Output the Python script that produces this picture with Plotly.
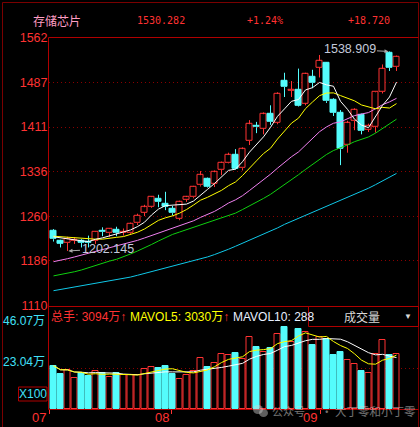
import plotly.graph_objects as go
import pandas as pd

W, H = 420, 427
def px(x): return x / W
def py(y): return 1 - y / H

# ---------------- data ----------------
idx = list(range(1, 51))
opens = [1236,1219,1216,1219,1219,1218,1219,1236,1232,1238,1233,1232,1249,1267,1277,1291,1282,1274,1257,1289,
         1293,1313,1324,1315,1339,1351,1364,1342,1388,1413,1409,1433,1419,1489,1473,1474,1451,1497,1512,1519,
         1457,1435,1381,1422,1432,1407,1412,1471,1537,1513]
highs = [1239,1221,1226,1225,1222,1228,1235,1242,1240,1243,1240,1250,1265,1280,1294,1297,1302,1278,1287,1295,
         1312,1337,1326,1338,1353,1368,1374,1377,1423,1420,1436,1448,1470,1503,1489,1510,1503,1508,1533,1521,
         1460,1440,1422,1443,1434,1417,1471,1517,1538.909,1532]
lows = [1218,1208,1202.145,1214,1208,1208,1214,1227,1226,1227,1228,1230,1246,1261,1275,1276,1271,1262,1254,1285,
        1291,1311,1309,1310,1330,1350,1339,1338,1381,1401,1399,1415,1416,1462,1462,1446,1448,1477,1495,1452,
        1430,1347,1368,1406,1399,1403,1402,1468,1506,1506]
closes = [1222,1215,1222,1221,1216,1216,1234,1234,1239,1232,1235,1248,1262,1276,1293,1285,1277,1266,1285,1293,
          1311,1330,1311,1335,1351,1364,1340,1374,1416,1411,1433,1420,1467,1479,1475,1448,1501,1486,1523,1455,
          1436,1374,1418,1440,1405,1414,1470,1510,1511.562,1530.282]
volume = [24.3,19.8,21.9,17.2,20.1,18.7,21.2,20.1,18.0,20.1,19.1,19.1,19.1,22.5,23.6,23.0,24.2,19.8,16.9,19.1,
          21.4,28.7,23.6,25.9,30.9,30.3,31.5,28.1,40.5,34.8,32.0,34.3,42.1,46.07,37.7,44.8,43.3,36.0,40.5,39.3,
          30.5,32.0,27.8,25.5,21.5,20.2,30.9,39.0,30.5,30.94]

ma5 = [1226,1224,1222,1220,1219.2,1218,1221.8,1224.2,1227.8,1231,1234.8,1237.6,1243.2,1250.6,1262.8,1272.8,
       1278.6,1279.4,1281.2,1281.2,1286.4,1297,1306,1316,1327.6,1338.2,1340.2,1352.8,1369,1381,1394.8,1410.8,
       1429.4,1442,1454.8,1457.8,1474,1477.8,1486.6,1482.6,1480.2,1454.8,1441.2,1424.6,1414.6,1410.2,1429.4,
       1447.8,1462.1,1487.2]
ma10 = [1227,1226,1225,1224,1223,1222,1222,1222,1223,1225.1,1226.4,1229.7,1233.7,1239.2,1246.9,1253.8,1258.1,
        1261.3,1265.9,1272,1279.6,1287.8,1292.7,1298.6,1304.4,1312.3,1318.6,1329.4,1342.5,1354.3,1366.5,1375.5,
        1391.1,1405.5,1417.9,1426.3,1442.4,1453.6,1464.3,1468.7,1469,1464.4,1459.5,1455.6,1448.6,1445.2,1442.1,
        1444.5,1443.4,1450.9]
ma20 = [1184,1186,1189,1192,1195,1198,1201,1204,1207,1210,1213,1216,1220,1224,1228,1232,1237,1241,1245,1248.6,
        1253,1258.75,1263.2,1268.9,1275.65,1283,1288.4,1295.4,1304.2,1313.2,1323,1331.7,1341.9,1352,1361.2,
        1369.3,1380.5,1391.5,1403.4,1411.5,1417.75,1420,1425.3,1430.6,1433.3,1435.75,1442.25,1449,1453.8,1459.8]
ma30 = [1160,1162,1165,1167,1170,1174,1177,1181,1185,1188,1192,1197,1202,1207,1213,1219,1225,1230,1234,1238,
        1242,1246,1250,1254,1257,1262,1266,1272,1278,1283.8,1290.8,1297.7,1305.8,1314.4,1323.1,1330.8,1339.7,
        1348.1,1357.6,1365,1371.7,1375.9,1381.1,1386.6,1390.3,1394.6,1401,1409.2,1416.7,1424.6]
ma_long = [1135,1137,1139,1141,1143,1145,1147,1149,1151,1153,1155,1158,1161,1164,1167,1170,1173,1176,1179,1182,
           1186,1189,1192,1196,1200,1205,1210,1215,1220,1225,1230,1236,1241,1247,1252,1257,1262,1267,1273,1278,
           1283,1288,1292,1297,1303,1308,1314,1320,1326,1333]

price_ticks = [1110, 1185.33, 1260.67, 1336, 1411.33, 1486.67, 1562]
price_tick_text = ["1110", "1186", "1260", "1336", "1411", "1487", "1562"]
month_labels = ["07", "08", "09"]
month_pos = [0.4, 17.9, 39.1]

title_name = "存储芯片"
last_price = "1530.282"
pct_chg = "+1.24%"
abs_chg = "+18.720"

# ---------------- styles ----------------
RED = "#ff3232"
CYAN = "#54fcfc"
GRID = "#8a0000"
BORDER = "#b00000"
FONT = "Liberation Sans, Noto Sans CJK SC, sans-serif"
CJK = "Noto Sans CJK SC, sans-serif"
MONO = "DejaVu Sans Mono, Noto Sans CJK SC, monospace"

vol_s = pd.Series(volume)
mavol5 = vol_s.rolling(5, min_periods=1).mean().tolist()
mavol10 = vol_s.rolling(10, min_periods=1).mean().tolist()

up = [i for i in range(50) if closes[i] >= opens[i]]
dn = [i for i in range(50) if closes[i] < opens[i]]

fig = go.Figure()

BW = 0.72
fig.add_trace(go.Bar(x=[idx[i] for i in up], y=[closes[i] - opens[i] for i in up],
                     base=[opens[i] for i in up], width=BW,
                     marker=dict(color="black", line=dict(color=RED, width=1)),
                     xaxis="x", yaxis="y", hoverinfo="skip"))
fig.add_trace(go.Bar(x=[idx[i] for i in dn], y=[opens[i] - closes[i] for i in dn],
                     base=[closes[i] for i in dn], width=BW,
                     marker=dict(color=CYAN, line=dict(color=CYAN, width=1)),
                     xaxis="x", yaxis="y", hoverinfo="skip"))

def wick(ids):
    xs, ys = [], []
    for i in ids:
        top = max(opens[i], closes[i]); bot = min(opens[i], closes[i])
        xs += [idx[i], idx[i], None, idx[i], idx[i], None]
        ys += [highs[i], top, None, bot, lows[i], None]
    return xs, ys

for ids, col in ((up, RED), (dn, CYAN)):
    xs, ys = wick(ids)
    fig.add_trace(go.Scatter(x=xs, y=ys, mode="lines", line=dict(color=col, width=1),
                             xaxis="x", yaxis="y", hoverinfo="skip"))

for arr, col in ((ma_long, "#10c8e8"), (ma30, "#10d010"), (ma20, "#f080f0"), (ma10, "#ffff00"), (ma5, "#ffffff")):
    fig.add_trace(go.Scatter(x=idx, y=arr, mode="lines", line=dict(color=col, width=1),
                             xaxis="x", yaxis="y", hoverinfo="skip"))

fig.add_trace(go.Bar(x=[idx[i] for i in up], y=[volume[i] for i in up], width=BW,
                     marker=dict(color="black", line=dict(color=RED, width=1)),
                     xaxis="x2", yaxis="y2", hoverinfo="skip"))
fig.add_trace(go.Bar(x=[idx[i] for i in dn], y=[volume[i] for i in dn], width=BW,
                     marker=dict(color=CYAN, line=dict(color=CYAN, width=1)),
                     xaxis="x2", yaxis="y2", hoverinfo="skip"))
fig.add_trace(go.Scatter(x=idx, y=mavol10, mode="lines", line=dict(color="#ffffff", width=1),
                         xaxis="x2", yaxis="y2", hoverinfo="skip"))
fig.add_trace(go.Scatter(x=idx, y=mavol5, mode="lines", line=dict(color="#ffff00", width=1),
                         xaxis="x2", yaxis="y2", hoverinfo="skip"))

XL, XR = 48.5, 418.5
xr = [1 - (53.5 - XL) / 7, 1 + (XR - 53.5) / 7]
vol_top = (409 - 309) / 41 * 23.04

fig.update_layout(
    width=W, height=H, margin=dict(l=0, r=0, t=0, b=0, autoexpand=False),
    paper_bgcolor="black", plot_bgcolor="black", showlegend=False,
    barmode="overlay", bargap=0,
    font=dict(family=FONT, color=RED, size=12),
    xaxis=dict(domain=[px(XL), px(XR)], range=xr, anchor="y", showgrid=False, zeroline=False,
               showticklabels=False, ticks="", automargin=False),
    yaxis=dict(domain=[py(305.5), py(37.8)], range=[1110, 1562], anchor="x",
               tickvals=price_ticks, ticktext=price_tick_text, ticks="", automargin=False,
               tickfont=dict(family=FONT, size=12.5, color=RED),
               showgrid=True, gridcolor=GRID, griddash="1px,3px", gridwidth=1, zeroline=False),
    xaxis2=dict(domain=[px(XL), px(XR)], range=xr, anchor="y2", showgrid=False, zeroline=False,
                tickvals=month_pos, showticklabels=False, ticks="outside", ticklen=4, tickcolor=RED,
                automargin=False),
    yaxis2=dict(domain=[py(409), py(309)], range=[0, vol_top], anchor="x2",
                tickvals=[23.04], showticklabels=False, ticks="", automargin=False,
                showgrid=True, gridcolor=GRID, griddash="1px,3px", gridwidth=1, zeroline=False),
)

shapes = []
def hline(y, x0, x1, col=BORDER, w=1):
    shapes.append(dict(type="line", xref="paper", yref="paper", x0=px(x0), x1=px(x1), y0=py(y), y1=py(y),
                       line=dict(color=col, width=w)))
def vline(x, y0, y1, col=BORDER, w=1):
    shapes.append(dict(type="line", xref="paper", yref="paper", x0=px(x), x1=px(x), y0=py(y0), y1=py(y1),
                       line=dict(color=col, width=w)))

hline(2.5, 2.5, 418.5, "#7a0000")
vline(2.5, 2.5, 427, "#7a0000")
vline(418.5, 2.5, 427, "#7a0000")
hline(37.5, XL, XR)
vline(XL, 37.5, 409.5)
hline(306.5, XL, XR)
hline(409.5, XL, XR)
shapes.append(dict(type="rect", xref="paper", yref="paper", x0=px(308.5), x1=px(418.5), y0=py(326.5), y1=py(306.5),
                   fillcolor="black", line=dict(color=BORDER, width=1), layer="above"))
shapes.append(dict(type="rect", xref="paper", yref="paper", x0=px(18.5), x1=px(47), y0=py(401), y1=py(387),
                   line=dict(color=BORDER, width=1)))
shapes.append(dict(type="circle", xref="paper", yref="paper", x0=px(253), x1=px(263), y0=py(414), y1=py(405),
                   fillcolor="rgba(210,210,210,0.45)", line=dict(width=0)))
shapes.append(dict(type="circle", xref="paper", yref="paper", x0=px(259), x1=px(268), y0=py(417), y1=py(409),
                   fillcolor="rgba(210,210,210,0.45)", line=dict(width=0)))
fig.update_layout(shapes=shapes)

ann = []
def text(x, y, s, col, size=12, xanchor="left", family=FONT, opacity=1):
    ann.append(dict(x=px(x), y=py(y), xref="paper", yref="paper", text=s, showarrow=False,
                    xanchor=xanchor, yanchor="middle", font=dict(family=family, size=size, color=col),
                    opacity=opacity))

text(31, 20, title_name, "#ff9ec4", 12, family=CJK)
text(135, 20, last_price, RED, 10, family=MONO)
text(245, 20, pct_chg, RED, 10, family=MONO)
text(346, 20, abs_chg, RED, 10, family=MONO)

text(49, 317, "总手: 3094万↑", RED, 12)
text(128, 317, f'MAVOL5: 3030万<span style="color:{RED}">↑</span>', "#ffff00", 12)
text(231, 317, "MAVOL10: 288", "#e8f0ff", 12)
text(362, 316.5, "成交量", "#d8d8d8", 12, xanchor="center", family=CJK)
text(408, 316, "▼", "#d8d8d8", 8, xanchor="center")
text(46.5, 320.5, "46.07万", "#40e0f8", 12, xanchor="right")
text(46.5, 361.7, "23.04万", "#40e0f8", 12, xanchor="right")
text(32.7, 394, "X100", "#40e0f8", 12, xanchor="center")
text(270, 411, "公众号", "#d0d0d0", 11, family=CJK, opacity=0.55)
text(319, 411, "· 大丁零和小丁零", "#d0d0d0", 11.5, family=CJK, opacity=0.55)

for lab, pos in zip(month_labels, month_pos):
    ann.append(dict(x=pos, y=py(417.5), xref="x2", yref="paper", text=lab, showarrow=False,
                    xanchor="right", yanchor="middle", xshift=-1,
                    font=dict(family=FONT, size=13, color=RED)))

ann.append(dict(x=49, y=1538.909, xref="x", yref="y", text="1538.909", showarrow=True,
                ax=-40, ay=-2, arrowcolor="#a8a8a8", arrowhead=2, arrowsize=0.8, arrowwidth=1, standoff=1,
                font=dict(family=FONT, size=12.5, color="#c4cadb")))
ann.append(dict(x=3, y=1202.145, xref="x", yref="y", text="1202.145", showarrow=True,
                ax=40, ay=-2, arrowcolor="#a8a8a8", arrowhead=2, arrowsize=0.8, arrowwidth=1, standoff=1,
                font=dict(family=FONT, size=12.5, color="#c4cadb")))
fig.update_layout(annotations=ann)

fig.write_html("out.html")
